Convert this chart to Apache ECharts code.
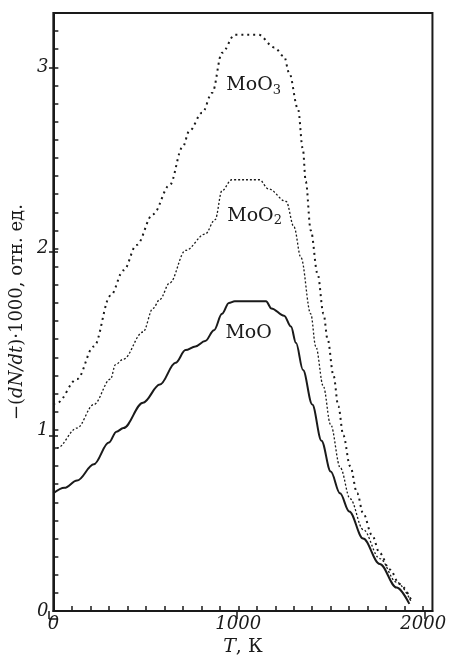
<!DOCTYPE html>
<html>
<head>
<meta charset="utf-8">
<script src="https://cdn.jsdelivr.net/npm/echarts@6/dist/echarts.min.js"></script>
<style>
html,body{margin:0;padding:0;background:#fff;}
#chart{width:449px;height:662px;}
</style>
</head>
<body>
<div id="chart"></div>
<script>
// ---- Data ----
var xTickLabels = [0, 1000, 2000];
var yTickLabels = [0, 1, 2, 3];

var mooT   = [0, 60, 128, 219, 300, 341, 379, 485, 576, 661, 715, 768, 821, 869, 912, 949, 981, 1150, 1179, 1248, 1285, 1312, 1350, 1400, 1450, 1500, 1550, 1600, 1675, 1765, 1856, 1925];
var mooV   = [0.65, 0.68, 0.72, 0.81, 0.93, 0.99, 1.01, 1.15, 1.25, 1.37, 1.44, 1.46, 1.49, 1.55, 1.64, 1.70, 1.71, 1.71, 1.67, 1.63, 1.57, 1.48, 1.33, 1.14, 0.94, 0.77, 0.65, 0.55, 0.40, 0.26, 0.13, 0.04];

var moo2T  = [0, 21, 128, 219, 309, 336, 379, 485, 539, 576, 629, 715, 821, 875, 912, 965, 1115, 1163, 1259, 1301, 1339, 1392, 1419, 1460, 1499, 1552, 1605, 1675, 1765, 1856, 1936];
var moo2V  = [0.89, 0.90, 1.01, 1.14, 1.28, 1.36, 1.39, 1.54, 1.67, 1.72, 1.81, 1.99, 2.08, 2.16, 2.32, 2.38, 2.38, 2.33, 2.26, 2.12, 1.95, 1.64, 1.46, 1.24, 1.03, 0.79, 0.62, 0.45, 0.29, 0.16, 0.05];

var moo3T  = [0, 21, 128, 219, 309, 380, 450, 539, 629, 699, 736, 805, 859, 912, 981, 1109, 1195, 1248, 1275, 1323, 1349, 1365, 1392, 1429, 1461, 1483, 1515, 1541, 1568, 1605, 1643, 1675, 1723, 1765, 1819, 1872, 1936];
var moo3V  = [1.14, 1.15, 1.28, 1.46, 1.74, 1.88, 2.02, 2.19, 2.35, 2.56, 2.65, 2.75, 2.86, 3.08, 3.18, 3.18, 3.11, 3.06, 2.97, 2.77, 2.55, 2.37, 2.10, 1.86, 1.64, 1.50, 1.30, 1.13, 0.97, 0.80, 0.65, 0.54, 0.42, 0.32, 0.23, 0.15, 0.06];

var seriesNames = ['MoO', 'MoO2', 'MoO3'];
var labelT = [1056, 1088, 1083];
var labelV = [1.535, 2.18, 2.90];

// ---- Build ----
function pairs(t, v) { return t.map(function (x, i) { return [x, v[i]]; }); }
var xMinor = []; for (var i = 0; i <= 20; i++) xMinor.push(i * 100);
var yMinor = []; for (var j = 0; j <= 32; j++) yMinor.push(j / 10);

var FONT = 'DejaVu Serif';
var INK = '#1a1a1a';
var gridBox = {left: 49, right: 15, top: 13, bottom: 43};

function labelRich(name) {
  var base = name.replace(/[0-9]/g, '');
  var sub = name.replace(/[^0-9]/g, '');
  return sub ? '{a|' + base + '}{s|' + sub + '}' : '{a|' + base + '}';
}
var richLbl = {
  a: {fontFamily: FONT, fontSize: 19, color: INK, lineHeight: 22},
  s: {fontFamily: FONT, fontSize: 13, color: INK, lineHeight: 22, padding: [10, 0, 0, 0]}
};

function mkSeries(idx, t, v, lineType, width) {
  return {
    type: 'line', name: seriesNames[idx], xAxisIndex: 0, yAxisIndex: 0,
    data: pairs(t, v), showSymbol: false, smooth: 0.35, smoothMonotone: 'x',
    lineStyle: {color: INK, width: width, type: lineType},
    markPoint: {
      symbol: 'circle', symbolSize: 0, silent: true,
      itemStyle: {color: 'transparent'},
      label: {show: true, position: 'inside', formatter: labelRich(seriesNames[idx]), rich: richLbl},
      data: [{coord: [labelT[idx], labelV[idx]]}]
    }
  };
}
function plain(v) { return String(v); }

var chart = echarts.init(document.getElementById('chart'), null, {renderer: 'canvas'});
chart.setOption({
  animation: false,
  backgroundColor: '#fff',
  grid: [
    Object.assign({show: true, borderColor: INK, borderWidth: 2, backgroundColor: 'transparent'}, gridBox),
    Object.assign({show: false}, gridBox)
  ],
  xAxis: [
    {
      type: 'value', gridIndex: 0, min: 0, max: 2050,
      axisLine: {show: true, lineStyle: {color: INK, width: 2}},
      axisTick: {show: true, inside: true, length: 5, customValues: xMinor, lineStyle: {color: INK, width: 1.5}},
      axisLabel: {customValues: xTickLabels, formatter: plain, fontFamily: FONT, fontStyle: 'italic', fontSize: 18, color: INK, margin: 4},
      splitLine: {show: false},
      name: '{i|T}{n|, К}', nameLocation: 'middle', nameGap: 26,
      nameTextStyle: {rich: {
        i: {fontFamily: FONT, fontStyle: 'italic', fontSize: 19, color: INK},
        n: {fontFamily: FONT, fontSize: 19, color: INK}
      }}
    },
    {
      type: 'value', gridIndex: 1, min: 0, max: 2050,
      axisLine: {show: false},
      axisTick: {show: true, inside: true, length: 8, customValues: xTickLabels, lineStyle: {color: INK, width: 1.5}},
      axisLabel: {show: false}, splitLine: {show: false}
    }
  ],
  yAxis: [
    {
      type: 'value', gridIndex: 0, min: 0, max: 3.3,
      axisLine: {show: true, lineStyle: {color: INK, width: 2}},
      axisTick: {show: true, inside: true, length: 5, customValues: yMinor, lineStyle: {color: INK, width: 1.5}},
      axisLabel: {customValues: yTickLabels, formatter: plain, fontFamily: FONT, fontStyle: 'italic', fontSize: 18, color: INK, margin: 5},
      splitLine: {show: false},
      name: '{n|−(}{i|dN/dt}{n|)·1000, }{s|отн. ед.}', nameLocation: 'middle', nameGap: 24,
      nameTextStyle: {rich: {
        i: {fontFamily: FONT, fontStyle: 'italic', fontSize: 18, color: INK},
        n: {fontFamily: FONT, fontSize: 18, color: INK},
        s: {fontFamily: FONT, fontSize: 18, color: INK}
      }}
    },
    {
      type: 'value', gridIndex: 1, min: 0, max: 3.3,
      axisLine: {show: false},
      axisTick: {show: true, inside: true, length: 9, customValues: yTickLabels, lineStyle: {color: INK, width: 1.5}},
      axisLabel: {show: false}, splitLine: {show: false}
    }
  ],
  series: [
    mkSeries(0, mooT, mooV, 'solid', 2),
    mkSeries(1, moo2T, moo2V, [2, 2], 1.3),
    mkSeries(2, moo3T, moo3V, [2, 4], 2)
  ]
});
</script>
</body>
</html>
